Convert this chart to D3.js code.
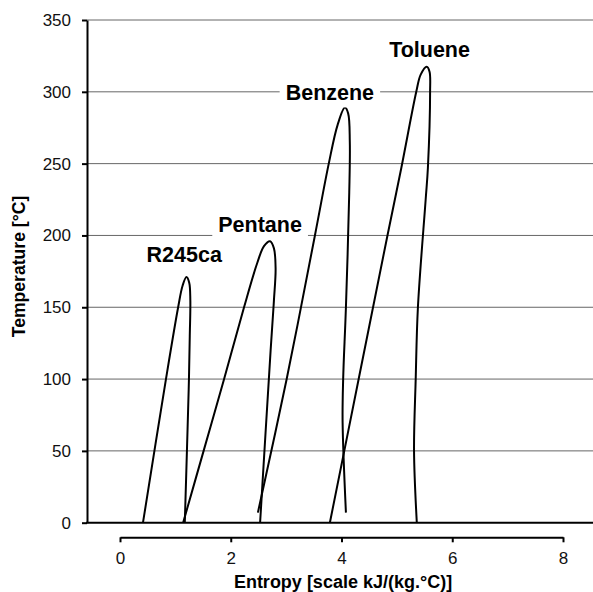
<!DOCTYPE html>
<html lang="en">
<head>
<meta charset="utf-8">
<title>T-s diagram</title>
<script src="https://cdn.jsdelivr.net/npm/d3@7" charset="utf-8"></script>
<style>
  body { margin: 0; background: #fff; }
  text { font-family: Arial, "Liberation Sans", sans-serif; }
</style>
</head>
<body>
<script type="text/javascript">

var width = 593;
var height = 592;

// axis ticks
var tempTicks = [0, 50, 100, 150, 200, 250, 300, 350];
var entropyTicks = [0, 2, 4, 6, 8];

// saturation curves (entropy, temperature)
var r245caS = [0.415, 0.83, 1.05, 1.13, 1.20, 1.25, 1.27, 1.26, 1.245, 1.22, 1.17];
var r245caT = [0, 100, 150, 165, 171, 167, 155, 130, 100, 65, 0];

var pentaneS = [1.14, 1.51, 1.88, 2.24, 2.48, 2.60, 2.71, 2.78, 2.81, 2.78, 2.72, 2.53];
var pentaneT = [0, 50, 100, 150, 181, 192.5, 196, 191, 177, 155, 120, 0];

var benzeneS = [2.49, 3.01, 3.52, 3.77, 3.93, 4.06, 4.12, 4.15, 4.14, 4.08, 4.03, 4.02, 4.08];
var benzeneT = [7, 100, 200, 250, 277, 289, 285, 265, 230, 150, 100, 70, 7];

var tolueneS = [3.79, 4.31, 4.83, 5.08, 5.35, 5.43, 5.54, 5.59, 5.60, 5.56, 5.52, 5.38, 5.34, 5.31, 5.36];
var tolueneT = [0, 100, 200, 247, 300, 312, 317.5, 314, 300, 247, 225, 150, 100, 50, 0];

// labels (centre entropy, baseline temperature)
var labelNames = ["R245ca", "Pentane", "Benzene", "Toluene"];
var labelS = [1.16, 2.53, 3.79, 5.59];
var labelT = [181.5, 202.5, 294, 324];

var svg = d3.select("body").append("svg")
            .attr("width", width)
            .attr("height", height);

var frameLeft = 87;
var frameRight = 593;

var x = d3.scaleLinear().domain([0, 8]).range([120, 563]);
var y = d3.scaleLinear().domain([0, 350]).range([522.7, 20]);

// gridlines
svg.append("g")
   .selectAll("line")
   .data(tempTicks.filter(function(t) { return t > 0; }))
   .enter()
   .append("line")
   .attr("x1", frameLeft)
   .attr("x2", frameRight)
   .attr("y1", function(d) { return y(d); })
   .attr("y2", function(d) { return y(d); })
   .attr("stroke", "#666")
   .attr("stroke-width", 1);

// curves
var line = d3.line()
             .x(function(d) { return x(d[0]); })
             .y(function(d) { return y(d[1]); })
             .curve(d3.curveCatmullRom.alpha(0.5));

var curves = [d3.zip(r245caS, r245caT), d3.zip(pentaneS, pentaneT),
              d3.zip(benzeneS, benzeneT), d3.zip(tolueneS, tolueneT)];

svg.append("g")
   .selectAll("path")
   .data(curves)
   .enter()
   .append("path")
   .attr("d", line)
   .attr("fill", "none")
   .attr("stroke", "#000")
   .attr("stroke-width", 2);

// labels with white boxes
labelNames.forEach(function(name, i) {
  var g = svg.append("g");
  var t = g.append("text")
           .attr("x", x(labelS[i]))
           .attr("y", y(labelT[i]))
           .attr("text-anchor", "middle")
           .attr("font-size", 21.5)
           .attr("font-weight", "bold")
           .attr("fill", "#000")
           .text(name);
  var b = t.node().getBBox();
  g.insert("rect", "text")
   .attr("x", b.x - 6)
   .attr("y", b.y)
   .attr("width", b.width + 12)
   .attr("height", b.height + 2)
   .attr("fill", "#fff");
});

// left axis
var yAxis = svg.append("g")
               .attr("transform", "translate(" + frameLeft + ",0)")
               .call(d3.axisLeft(y).tickValues(tempTicks).tickSize(5).tickSizeOuter(0).tickPadding(11));
yAxis.select(".domain").attr("stroke", "#000").attr("stroke-width", 2);
yAxis.selectAll(".tick line").attr("stroke", "#000").attr("stroke-width", 2);
yAxis.selectAll(".tick text")
     .attr("font-size", 17)
     .attr("font-family", "Arial, 'Liberation Sans', sans-serif")
     .attr("fill", "#111");

// bottom frame line
svg.append("line")
   .attr("x1", frameLeft - 1)
   .attr("x2", frameRight)
   .attr("y1", y(0))
   .attr("y2", y(0))
   .attr("stroke", "#000")
   .attr("stroke-width", 2);

// separate entropy axis
var xAxis = svg.append("g")
               .attr("transform", "translate(0,537.3)")
               .call(d3.axisBottom(x).tickValues(entropyTicks).tickSize(5).tickSizeOuter(0).tickPadding(9.4));
xAxis.select(".domain").attr("stroke", "#000").attr("stroke-width", 2);
xAxis.selectAll(".tick line").attr("stroke", "#000").attr("stroke-width", 2);
xAxis.selectAll(".tick text")
     .attr("font-size", 17)
     .attr("font-family", "Arial, 'Liberation Sans', sans-serif")
     .attr("fill", "#111");

// axis titles
svg.append("text")
   .attr("x", 343)
   .attr("y", 587.5)
   .attr("text-anchor", "middle")
   .attr("font-size", 18)
   .attr("font-weight", "bold")
   .text("Entropy [scale kJ/(kg.°C)]");

svg.append("text")
   .attr("transform", "translate(25,266.5) rotate(-90)")
   .attr("text-anchor", "middle")
   .attr("font-size", 17.6)
   .attr("font-weight", "bold")
   .text("Temperature [°C]");

</script>
</body>
</html>
